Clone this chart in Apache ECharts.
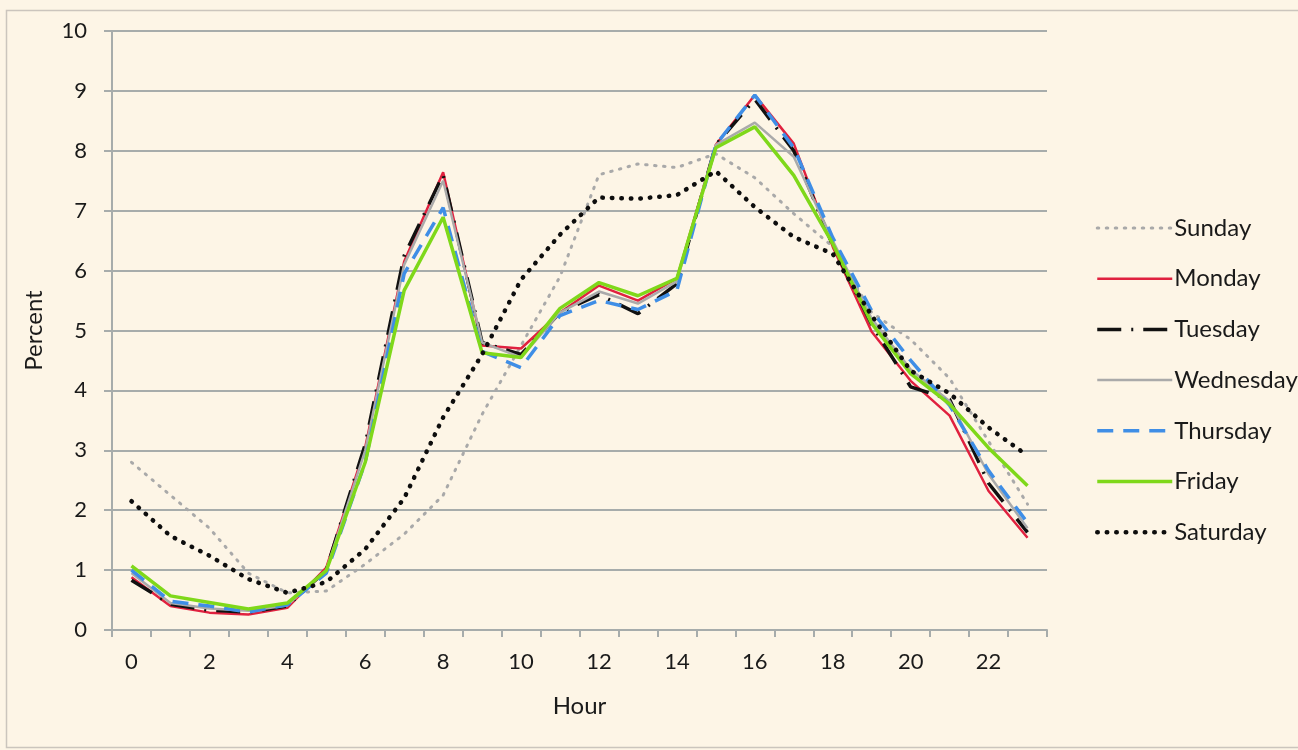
<!DOCTYPE html>
<html>
<head>
<meta charset="utf-8">
<script src="https://cdn.jsdelivr.net/npm/echarts@6/dist/echarts.min.js"></script>
<style>
html,body{margin:0;padding:0;background:#fdf5e6;}
#c{width:1298px;height:750px;}
</style>
</head>
<body>
<div id="c"></div>
<script>
var hours = [0,1,2,3,4,5,6,7,8,9,10,11,12,13,14,15,16,17,18,19,20,21,22,23];
var sunday    = [2.8,2.25,1.7,0.95,0.62,0.65,1.1,1.6,2.25,3.6,4.75,5.9,7.6,7.78,7.72,7.95,7.55,6.95,6.4,5.3,4.85,4.2,3.15,2.1];
var monday    = [0.88,0.4,0.29,0.26,0.37,1.04,3.05,6.15,7.64,4.75,4.7,5.3,5.75,5.5,5.87,8.1,8.93,8.12,6.4,4.98,4.16,3.58,2.32,1.54];
var tuesday   = [0.83,0.43,0.33,0.3,0.4,1.0,3.1,6.25,7.6,4.8,4.6,5.3,5.6,5.28,5.78,8.1,8.86,8.0,6.42,5.1,4.06,3.85,2.45,1.63];
var wednesday = [0.95,0.45,0.36,0.32,0.41,1.0,3.0,6.1,7.5,4.8,4.55,5.3,5.65,5.45,5.82,8.1,8.47,7.9,6.5,5.2,4.35,3.82,2.6,1.7];
var thursday  = [1.0,0.48,0.4,0.3,0.42,0.95,2.8,5.95,7.05,4.65,4.38,5.25,5.5,5.35,5.67,8.1,8.93,8.05,6.55,5.33,4.5,3.75,2.66,1.79];
var friday    = [1.07,0.57,0.46,0.35,0.45,0.99,2.8,5.67,6.89,4.63,4.55,5.37,5.8,5.58,5.87,8.05,8.4,7.59,6.45,5.12,4.28,3.77,3.04,2.41];
var saturday  = [2.15,1.57,1.24,0.85,0.62,0.8,1.35,2.2,3.55,4.6,5.85,6.6,7.22,7.2,7.26,7.66,7.06,6.56,6.28,5.25,4.33,3.95,3.38,2.91];
var yTicks = [0,1,2,3,4,5,6,7,8,9,10];

var FONT = 'Lato, "Open Sans", sans-serif';
function line(name, data, color, width, type, cap) {
  return {
    name: name, type: 'line', data: data, symbol: 'none', silent: true,
    lineStyle: {color: color, width: width, type: type, cap: cap || 'butt'},
    itemStyle: {color: color},
    animation: false
  };
}
var chart = echarts.init(document.getElementById('c'));
chart.setOption({
  backgroundColor: '#fdf5e6',
  animation: false,
  graphic: [{
    type: 'rect', shape: {x: 6.5, y: 10.5, width: 1400, height: 737},
    style: {fill: 'none', stroke: '#cbc5bd', lineWidth: 1.5}, silent: true
  }],
  grid: {left: 112, right: 251, top: 31, bottom: 120},
  legend: {
    orient: 'vertical', left: 1090, top: 210, itemWidth: 75, itemHeight: 14, itemGap: 24.7,
    itemStyle: {opacity: 0},
    lineStyle: {width: 'inherit', type: 'inherit', cap: 'inherit'},
    textStyle: {fontFamily: FONT, fontSize: 24, lineHeight: 26, color: '#1a1a1a', padding: [0,0,0,-3]},
    data: ['Sunday','Monday','Tuesday','Wednesday','Thursday','Friday','Saturday']
  },
  xAxis: {
    type: 'category', data: hours, boundaryGap: true,
    name: 'Hour', nameLocation: 'middle', nameGap: 64,
    nameTextStyle: {fontFamily: FONT, fontSize: 24, color: '#1a1a1a'},
    axisLine: {lineStyle: {color: '#a7acab', width: 2}},
    axisTick: {show: true, length: 7, interval: 0, lineStyle: {color: '#a7acab', width: 2}},
    axisLabel: {interval: 1, margin: 21, fontFamily: FONT, fontSize: 22, color: '#1a1a1a'},
    splitLine: {show: false}
  },
  yAxis: {
    type: 'value', min: 0, max: 10, interval: 1,
    name: 'Percent', nameLocation: 'middle', nameGap: 66, nameRotate: 90,
    nameTextStyle: {fontFamily: FONT, fontSize: 24, color: '#1a1a1a'},
    axisLine: {show: true, lineStyle: {color: '#a7acab', width: 2}},
    axisTick: {show: true, length: 8, lineStyle: {color: '#a7acab', width: 2}},
    axisLabel: {margin: 25, fontFamily: FONT, fontSize: 22, color: '#1a1a1a',
      formatter: function(v){ return yTicks.indexOf(v) >= 0 ? String(v) : ''; }},
    splitLine: {lineStyle: {color: '#a7acab', width: 2}}
  },
  series: [
    line('Sunday', sunday, '#a9a9a9', 3, [1.5, 7.5], 'round'),
    line('Monday', monday, '#e0213f', 2.5, 'solid'),
    line('Tuesday', tuesday, '#111111', 3.5, [24, 10, 2, 10]),
    line('Wednesday', wednesday, '#aaaaaa', 2.5, 'solid'),
    line('Thursday', thursday, '#3f8ee6', 3.5, [16, 10]),
    line('Friday', friday, '#7fd81a', 3.5, 'solid'),
    line('Saturday', saturday, '#0d0d0d', 4.5, [0.5, 9], 'round')
  ]
});
</script>
</body>
</html>
